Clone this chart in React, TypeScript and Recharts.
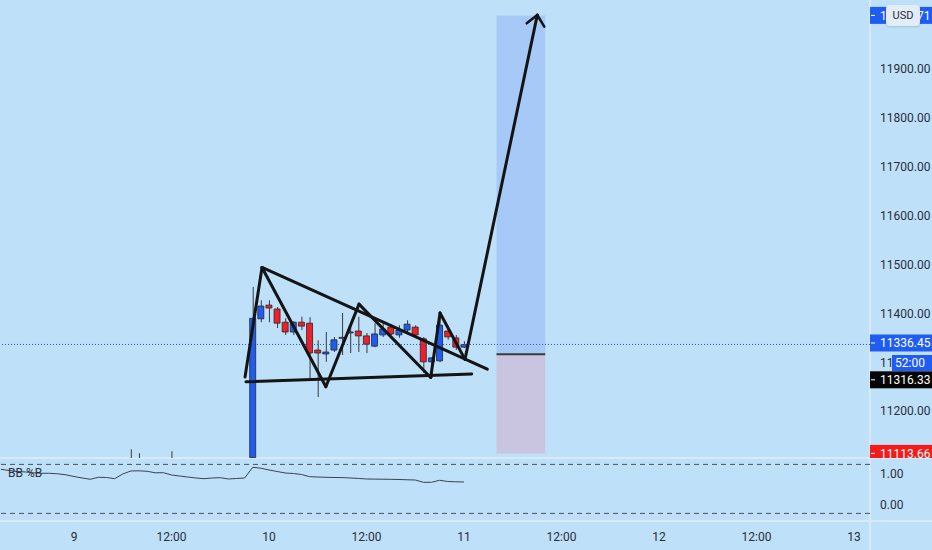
import React from 'react';
import {
  ComposedChart,
  Bar,
  Cell,
  Line,
  XAxis,
  YAxis,
  ReferenceLine,
  ReferenceArea,
} from 'recharts';

// time is counted in hours from day 9, 00:00 (hourly candles)
const CANDLE_HOURS = [7, 8, 12, 22, 23, 24, 25, 26, 27, 28, 29, 30, 31, 32, 33, 34, 35, 36, 37, 38, 39, 40, 41, 42, 43, 44, 45, 46, 47, 48];
const OPENS = [11095, 11092, 11090, 11105, 11389, 11417, 11409, 11382, 11362, 11382, 11380, 11325, 11317, 11325, 11349, 11360, 11364, 11354, 11333, 11356, 11372, 11356, 11366, 11372, 11348, 11301, 11303, 11364, 11350, 11331];
const HIGHS = [11122, 11114, 11118, 11454, 11427, 11427, 11413, 11390, 11384, 11393, 11392, 11345, 11362, 11352, 11401, 11376, 11393, 11360, 11380, 11380, 11378, 11376, 11386, 11376, 11352, 11311, 11403, 11370, 11356, 11343];
const LOWS = [11080, 11085, 11082, 11104.5, 11382, 11382, 11370, 11356, 11356, 11366, 11268, 11229, 11301, 11321, 11315, 11319, 11321, 11319, 11331, 11352, 11356, 11350, 11360, 11350, 11278, 11268, 11300, 11346, 11325, 11329];
const CLOSES = [11090, 11098, 11096, 11390, 11415, 11411, 11380, 11362, 11382, 11374, 11319, 11319, 11321, 11346, 11351, 11362, 11354, 11337, 11358, 11368, 11358, 11366, 11378, 11356, 11301, 11309, 11376, 11352, 11331, 11336.45];

// BB %B, one value per hour from hour -9 to hour 48
const PCTB_START = -9;
const PCTB_VALUES = [
  1.152, 1.113, 1.081, 1.065, 1.039, 1.023, 1.023, 1.006, 0.974, 0.919,
  0.871, 0.829, 0.894, 0.887, 0.848, 1.0, 1.097, 1.103, 1.087, 1.039,
  1.042, 0.968, 0.935, 0.903, 0.871, 0.848, 0.871, 0.881, 0.839, 0.855,
  0.871, 1.216, 1.187, 1.129, 1.081, 1.032, 1.016, 0.984, 0.913, 0.903,
  0.894, 0.887, 0.884, 0.871, 0.858, 0.839, 0.835, 0.832, 0.829, 0.823,
  0.813, 0.806, 0.732, 0.732, 0.797, 0.758, 0.748, 0.742,
];
const PCTB_BANDS = [1.31, -0.27];
const PCTB_TICKS = [0, 1];

// hand drawn lines on the chart: [hour, price]
const ZIGZAG: [number, number][] = [
  [21.05, 11270], [23.14, 11494], [31.0, 11250], [35.08, 11419],
  [43.9, 11269], [45.05, 11401], [48.12, 11306], [57.02, 12010.5],
];
const UPPER_TREND: [number, number][] = [[23.14, 11494], [50.87, 11286]];
const LOWER_TREND: [number, number][] = [[21.17, 11260], [48.95, 11276]];
const ARROW_HEAD: [number, number][] = [[55.72, 11993.5], [57.02, 12010.5], [57.88, 11986.6]];

// long position tool
const POS_START = 52;
const POS_END = 58;
const TARGET = 12009.71;
const ENTRY = 11316.33;
const STOP = 11113.66;
const LAST_PRICE = 11336.45;
const COUNTDOWN = '52:00';

const PRICE_TICKS = [11200, 11300, 11400, 11500, 11600, 11700, 11800, 11900];
const PRICE_DOMAIN = [11104.2, 12041.2];
const TIME_TICKS = [0, 12, 24, 36, 48, 60, 72, 84, 96];
const TIME_LABELS = ['9', '12:00', '10', '12:00', '11', '12:00', '12', '12:00', '13'];
const X_DOMAIN = [-9.108, 97.97];

const BG = '#bee0f9';
const UP = '#1f5cf2';
const DOWN = '#f0202a';
const TEXT = '#2a2e39';
const FONT = 'Roboto, "Noto Sans", sans-serif';
const SEP = '#d6eaf9';

const candles = CANDLE_HOURS.map((t, i) => ({
  t,
  open: OPENS[i],
  high: HIGHS[i],
  low: LOWS[i],
  close: CLOSES[i],
}));

const pctB = PCTB_VALUES.map((v, i) => ({ t: PCTB_START + i, v }));

const toSeg = (pts: [number, number][]) =>
  pts.slice(1).map((p, i) => [
    { x: pts[i][0], y: pts[i][1] },
    { x: p[0], y: p[1] },
  ]);

function priceTag(text: string, fill: string, color: string, dy = 0, countdown?: string) {
  return (props: any) => {
    const vb = props.viewBox || {};
    const right = vb.x + vb.width;
    const cy = vb.y + dy;
    return (
      <g>
        <rect x={right} y={cy - 8.5} width={62} height={17} fill={fill} />
        <line x1={right + 1} x2={right + 5} y1={cy} y2={cy} stroke={color} strokeWidth={1} />
        <text x={right + 10} y={cy} dy="0.36em" fill={color} fontSize={12} fontFamily={FONT}>
          {text}
        </text>
        {countdown && (
          <g>
            <rect x={right + 22} y={cy + 12} width={40} height={16} fill={fill} />
            <text x={right + 25} y={cy + 20} dy="0.36em" fill={color} fontSize={12} fontFamily={FONT}>
              {countdown}
            </text>
          </g>
        )}
      </g>
    );
  };
}

function MainPane() {
  const lineSegs = [...toSeg(ZIGZAG), ...toSeg(UPPER_TREND), ...toSeg(LOWER_TREND)];
  const headSegs = [
    [{ x: ARROW_HEAD[0][0], y: ARROW_HEAD[0][1] }, { x: ARROW_HEAD[1][0], y: ARROW_HEAD[1][1] }],
    [{ x: ARROW_HEAD[2][0], y: ARROW_HEAD[2][1] }, { x: ARROW_HEAD[1][0], y: ARROW_HEAD[1][1] }],
  ];
  return (
    <ComposedChart width={932} height={458} data={candles} margin={{ top: 0, right: 0, bottom: 0, left: 0 }}>
      <XAxis xAxisId="main" type="number" dataKey="t" domain={X_DOMAIN} allowDataOverflow hide />
      <XAxis xAxisId="wick" type="number" dataKey="t" domain={X_DOMAIN} allowDataOverflow hide />
      <YAxis
        orientation="right"
        width={62}
        domain={PRICE_DOMAIN}
        allowDataOverflow
        ticks={PRICE_TICKS}
        interval={0}
        tickFormatter={(v: number) => v.toFixed(2)}
        axisLine={false}
        tickLine={false}
        tickMargin={4}
        tick={{ fontSize: 12, fill: TEXT, fontFamily: FONT }}
      />
      <ReferenceArea xAxisId="main" x1={POS_START} x2={POS_END} y1={ENTRY} y2={TARGET} fill="#a7c9f8" fillOpacity={1} stroke="none" />
      <ReferenceArea xAxisId="main" x1={POS_START} x2={POS_END} y1={STOP} y2={ENTRY} fill="#c9c4e0" fillOpacity={1} stroke="none" />
      <ReferenceLine xAxisId="main" y={LAST_PRICE} stroke="#2a55c8" strokeDasharray="1 2" strokeWidth={1} />
      <Bar xAxisId="wick" dataKey={(d: any) => [d.low, d.high]} barSize={1} fill="#3a3a3a" isAnimationActive={false} />
      <Bar
        xAxisId="main"
        dataKey={(d: any) => [Math.min(d.open, d.close), Math.max(d.open, d.close)]}
        barSize={6}
        stroke="#262626"
        strokeWidth={0.8}
        isAnimationActive={false}
      >
        {candles.map((c, i) => (
          <Cell key={`c-${i}`} fill={c.close >= c.open ? UP : DOWN} />
        ))}
      </Bar>
      <ReferenceLine
        xAxisId="main"
        segment={[{ x: POS_START, y: ENTRY }, { x: POS_END, y: ENTRY }]}
        stroke="#3b3b3b"
        strokeWidth={2}
      />
      {lineSegs.map((s, i) => (
        <ReferenceLine key={`l-${i}`} xAxisId="main" segment={s} stroke="#141414" strokeWidth={3} strokeLinecap="round" />
      ))}
      {headSegs.map((s, i) => (
        <ReferenceLine key={`h-${i}`} xAxisId="main" segment={s} stroke="#141414" strokeWidth={2.5} strokeLinecap="round" />
      ))}
    </ComposedChart>
  );
}

// price tags sit on top of the axis tick labels, so they get their own layer with the same scales
function PriceTags() {
  return (
    <ComposedChart width={932} height={458} data={candles} margin={{ top: 0, right: 0, bottom: 0, left: 0 }}>
      <XAxis type="number" dataKey="t" domain={X_DOMAIN} allowDataOverflow hide />
      <YAxis orientation="right" width={62} domain={PRICE_DOMAIN} allowDataOverflow tick={false} axisLine={false} tickLine={false} />
      <ReferenceLine y={TARGET} stroke="none" label={priceTag(TARGET.toFixed(2), UP, '#ffffff')} />
      <ReferenceLine y={STOP} stroke="none" label={priceTag(STOP.toFixed(2), '#f51b1b', '#ffffff')} />
      <ReferenceLine y={ENTRY} stroke="none" label={priceTag(ENTRY.toFixed(2), '#050505', '#ffffff', 25.5)} />
      <ReferenceLine y={LAST_PRICE} stroke="none" label={priceTag(LAST_PRICE.toFixed(2), UP, '#ffffff', -1.5, COUNTDOWN)} />
    </ComposedChart>
  );
}

function IndicatorPane() {
  return (
    <ComposedChart width={932} height={92} data={pctB} margin={{ top: 0, right: 0, bottom: 0, left: 0 }}>
      <XAxis
        type="number"
        dataKey="t"
        domain={X_DOMAIN}
        allowDataOverflow
        ticks={TIME_TICKS}
        interval={0}
        tickFormatter={(v: number) => TIME_LABELS[TIME_TICKS.indexOf(v)]}
        height={30}
        axisLine={false}
        tickLine={false}
        tickMargin={6}
        tick={{ fontSize: 12, fill: TEXT, fontFamily: FONT }}
      />
      <YAxis
        orientation="right"
        width={62}
        domain={[-0.484, 1.516]}
        allowDataOverflow
        ticks={PCTB_TICKS}
        interval={0}
        tickFormatter={(v: number) => v.toFixed(2)}
        axisLine={false}
        tickLine={false}
        tickMargin={4}
        tick={{ fontSize: 12, fill: TEXT, fontFamily: FONT }}
      />
      {PCTB_BANDS.map((b) => (
        <ReferenceLine key={b} y={b} stroke="#4a4f5a" strokeDasharray="5 4" strokeWidth={1} />
      ))}
      <Line type="linear" dataKey="v" stroke="#3a4250" strokeWidth={1} dot={false} isAnimationActive={false} />
    </ComposedChart>
  );
}

export default function App() {
  return (
    <div
      style={{
        position: 'absolute',
        left: 0,
        top: 0,
        width: 932,
        height: 550,
        background: BG,
        overflow: 'hidden',
        fontFamily: FONT,
      }}
    >
      <div style={{ position: 'absolute', left: 0, top: 457, width: 932, height: 2, background: SEP }} />
      <div style={{ position: 'absolute', left: 0, top: 520, width: 932, height: 2, background: SEP }} />
      <div style={{ position: 'absolute', left: 869, top: 0, width: 2, height: 550, background: SEP }} />
      <div style={{ position: 'absolute', left: 0, top: 0 }}>
        <MainPane />
      </div>
      <div style={{ position: 'absolute', left: 0, top: 0 }}>
        <PriceTags />
      </div>
      <div style={{ position: 'absolute', left: 0, top: 458 }}>
        <IndicatorPane />
      </div>
      <div style={{ position: 'absolute', left: 8, top: 465, fontSize: 12, color: TEXT, lineHeight: '16px' }}>BB %B</div>
      <div
        style={{
          position: 'absolute',
          left: 886,
          top: 5,
          width: 34,
          height: 21,
          borderRadius: 4,
          background: '#e2edf8',
          boxShadow: '0 1px 2px rgba(0,0,0,0.15)',
          fontSize: 11,
          lineHeight: '21px',
          textAlign: 'center',
          color: TEXT,
        }}
      >
        USD
      </div>
    </div>
  );
}
